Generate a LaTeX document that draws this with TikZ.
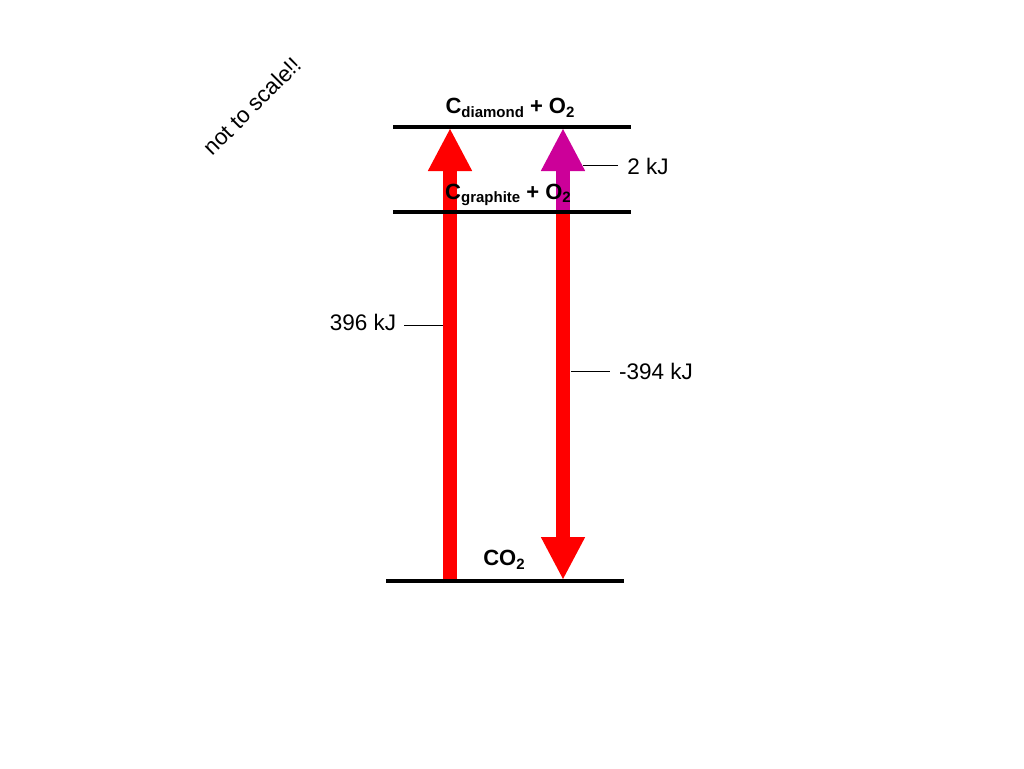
\documentclass[tikz,border=0pt]{standalone}
\usepackage{fontspec}
\setmainfont{Liberation Sans}
\usetikzlibrary{arrows.meta}
\definecolor{arrowred}{RGB}{255, 0, 0}
\definecolor{arrowmag}{RGB}{204, 0, 153}
\newcommand{\lowsub}[1]{\raisebox{-0.3ex}{\fontsize{15}{16}\selectfont #1}}
\begin{document}
\begin{tikzpicture}[x=1pt, y=-1pt,
    level/.style={line width=3.5pt, black},
    big/.style={line width=14pt, -{Triangle[length=43pt, width=41pt]}},
    lbl/.style={font=\fontsize{22.5}{26}\selectfont, inner sep=0pt},
    state/.style={font=\bfseries\fontsize{22}{26}\selectfont, inner sep=0pt},
    tick/.style={line width=0.6pt}
]
    \useasboundingbox (0,0) rectangle (1024,768);
    % energy levels
    \coordinate (dl) at (393,127); \coordinate (dr) at (631,127);
    \coordinate (gl) at (393,212); \coordinate (gr) at (631,212);
    \coordinate (cl) at (386,581); \coordinate (cr) at (624,581);
    % arrows
    \coordinate (upbot) at (450,583); \coordinate (uptop) at (450,128);
    \coordinate (mbot) at (563,212); \coordinate (mtop) at (563,128);
    \coordinate (dtop) at (563,212); \coordinate (dbot) at (563,580);
    \draw[big, arrowred] (upbot) -- (uptop);
    \draw[big, arrowred] (dtop) -- (dbot);
    \draw[big, arrowmag] (mbot) -- (mtop);
    \draw[level] (dl) -- (dr);
    \draw[level] (gl) -- (gr);
    \draw[level] (cl) -- (cr);
    % state labels
    \node[state] (dia) at (510,108) {C\lowsub{\bfseries diamond} + O\lowsub{\bfseries 2}};
    \node[state] (gra) at (508,195) {C\lowsub{\bfseries graphite} + O\lowsub{\bfseries 2}};
    \node[state] (co2) at (504,560) {CO\lowsub{\bfseries 2}};
    % energy labels
    \node[lbl] (e396) at (363,322) {396 kJ};
    \node[lbl] (e394) at (656,371) {-394 kJ};
    \node[lbl] (e2) at (648,166) {2 kJ};
    \coordinate (t396) at (443,325);
    \coordinate (t394) at (571,371);
    \coordinate (t2) at (583,165);
    \draw[tick] (e396.east) ++(8,3) -- (t396);
    \draw[tick] (e394.west) ++(-9,0) -- (t394);
    \draw[tick] (e2.west) ++(-9,-1) -- (t2);
    \node[lbl, rotate=45] (note) at (252,106) {not to scale!!};
\end{tikzpicture}
\end{document}
